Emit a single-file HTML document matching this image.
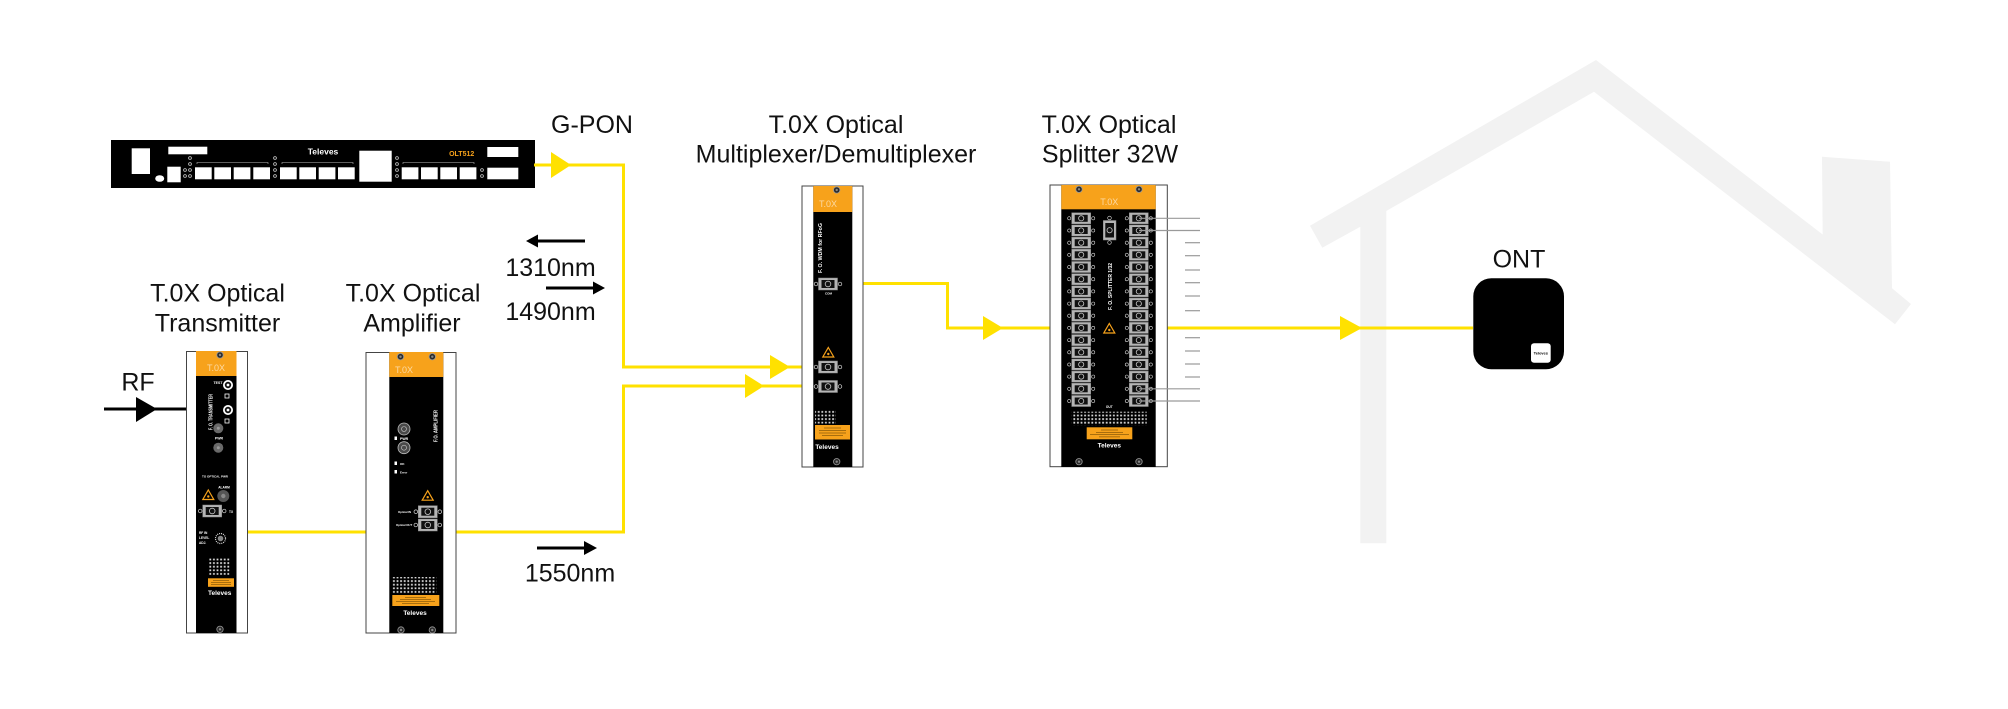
<!DOCTYPE html>
<html>
<head>
<meta charset="utf-8">
<style>
  html,body{margin:0;padding:0;background:#fff;}
  svg{display:block;}
  .t{font-family:"Liberation Sans",Arial,sans-serif;font-size:25px;fill:#111;}
  .w{font-family:"Liberation Sans",Arial,sans-serif;fill:#fff;font-weight:bold;}
</style>
</head>
<body>
<svg width="2008" height="709" viewBox="0 0 2008 709" xmlns="http://www.w3.org/2000/svg">
  <defs>
    <pattern id="dots" x="0" y="0" width="3.6" height="3.6" patternUnits="userSpaceOnUse">
      <rect x="0.6" y="0.6" width="1.8" height="1.8" fill="#d8d8d8"/>
    </pattern>
    <g id="conn">
      <rect x="0" y="0" width="19" height="11" fill="#b5b5b5" stroke="#8a8a8a" stroke-width="0.5"/>
      <rect x="3" y="2" width="13" height="7" fill="#111"/>
      <circle cx="9.5" cy="5.5" r="2.6" fill="none" stroke="#c8c8c8" stroke-width="0.8"/>
      <circle cx="-2.5" cy="5.5" r="1.6" fill="none" stroke="#ddd" stroke-width="0.6"/>
      <circle cx="21.5" cy="5.5" r="1.6" fill="none" stroke="#ddd" stroke-width="0.6"/>
    </g>
    <g id="conn2">
      <rect x="0" y="0" width="19" height="12" fill="#b5b5b5" stroke="#8a8a8a" stroke-width="0.5"/>
      <rect x="3" y="2" width="13" height="8" fill="#111"/>
      <circle cx="9.5" cy="6" r="2.8" fill="none" stroke="#c8c8c8" stroke-width="0.8"/>
      <circle cx="-2.5" cy="6" r="1.8" fill="none" stroke="#ddd" stroke-width="0.7"/>
      <circle cx="21.5" cy="6" r="1.8" fill="none" stroke="#ddd" stroke-width="0.7"/>
    </g>
    <g id="screw">
      <circle cx="0" cy="0" r="3.2" fill="#2a2a2a" stroke="#9a9a9a" stroke-width="0.8"/>
      <circle cx="0" cy="0" r="1.2" fill="#888"/>
    </g>
    <g id="warn">
      <polygon points="0,-5 5.5,4.5 -5.5,4.5" fill="none" stroke="#f7a21b" stroke-width="1.2"/>
      <circle cx="0" cy="1.5" r="1.2" fill="#f7a21b"/>
    </g>
  </defs>

  <!-- House -->
  <polygon fill="#f2f2f2" points="1310,225.7 1596,60 1822.7,234.5 1822,156.7 1890,161.7 1892,288.3 1911,304 1895,324.3 1594,91.7 1386.3,211 1386.3,543.3 1360.3,543.3 1360.3,226.7 1322.3,247.7"/>

  <!-- Titles -->
  <text class="t" x="592" y="133" text-anchor="middle">G-PON</text>
  <text class="t" x="836" y="133" text-anchor="middle">T.0X Optical</text>
  <text class="t" x="836" y="162.5" text-anchor="middle">Multiplexer/Demultiplexer</text>
  <text class="t" x="1109" y="133" text-anchor="middle">T.0X Optical</text>
  <text class="t" x="1110" y="162.5" text-anchor="middle">Splitter 32W</text>
  <text class="t" x="217.5" y="301.7" text-anchor="middle">T.0X Optical</text>
  <text class="t" x="217.5" y="331.7" text-anchor="middle">Transmitter</text>
  <text class="t" x="413" y="301.7" text-anchor="middle">T.0X Optical</text>
  <text class="t" x="412" y="331.7" text-anchor="middle">Amplifier</text>
  <text class="t" x="550.5" y="276" text-anchor="middle">1310nm</text>
  <text class="t" x="550.5" y="320" text-anchor="middle">1490nm</text>
  <text class="t" x="570" y="581.7" text-anchor="middle">1550nm</text>
  <text class="t" x="138" y="390.5" text-anchor="middle">RF</text>
  <text class="t" x="1519" y="267.5" text-anchor="middle">ONT</text>

  <!-- Black arrows -->
  <g stroke="#000" stroke-width="3" fill="none">
    <line x1="104" y1="409" x2="197" y2="409"/>
    <line x1="535" y1="241" x2="585" y2="241"/>
    <line x1="546" y1="288" x2="596" y2="288"/>
    <line x1="537" y1="548" x2="587" y2="548"/>
  </g>
  <g fill="#000">
    <polygon points="136,397 157,409 136,422"/>
    <polygon points="526,241 538,234.5 538,247.5"/>
    <polygon points="605,288 593,281.5 593,294.5"/>
    <polygon points="597,548 584,541 584,555"/>
  </g>

  <!-- OLT -->
  <g>
    <rect x="111" y="140" width="424" height="48" fill="#000"/>
    <g fill="#fff">
      <rect x="131.7" y="148.3" width="18.3" height="25.7"/>
      <rect x="168.3" y="146.7" width="39" height="7.6"/>
      <ellipse cx="159.7" cy="178.5" rx="4.5" ry="3.3"/>
      <rect x="167.3" y="166.7" width="13.4" height="15.6"/>
      <rect x="195" y="167.3" width="16.7" height="12"/>
      <rect x="214.3" y="167.3" width="16.7" height="12"/>
      <rect x="233.7" y="167.3" width="16.7" height="12"/>
      <rect x="253.3" y="167.3" width="16.7" height="12"/>
      <rect x="280" y="167.3" width="16.7" height="12"/>
      <rect x="299.3" y="167.3" width="16.7" height="12"/>
      <rect x="318.7" y="167.3" width="16.7" height="12"/>
      <rect x="338" y="167.3" width="16.7" height="12"/>
      <rect x="359.3" y="150.7" width="32.4" height="31"/>
      <rect x="401.7" y="167.3" width="16.7" height="12"/>
      <rect x="421" y="167.3" width="16.7" height="12"/>
      <rect x="440.3" y="167.3" width="16.7" height="12"/>
      <rect x="459.7" y="167.3" width="16.7" height="12"/>
      <rect x="487.3" y="147" width="31" height="10"/>
      <rect x="487.3" y="167.7" width="31" height="11.6"/>
    </g>
    <g fill="none" stroke="#bbb" stroke-width="0.6">
      <path d="M197 164 V162.5 H268 V164"/>
      <path d="M282 164 V162.5 H353 V164"/>
      <path d="M403 164 V162.5 H474 V164"/>
    </g>
    <g fill="none" stroke="#ccc" stroke-width="0.8">
      <circle cx="190" cy="158" r="1.4"/><circle cx="190" cy="164" r="1.4"/><circle cx="190" cy="170" r="1.4"/><circle cx="190" cy="176" r="1.4"/>
      <circle cx="185" cy="170" r="1.4"/><circle cx="185" cy="176" r="1.4"/>
      <circle cx="275" cy="158" r="1.4"/><circle cx="275" cy="164" r="1.4"/><circle cx="275" cy="170" r="1.4"/><circle cx="275" cy="176" r="1.4"/>
      <circle cx="397" cy="158" r="1.4"/><circle cx="397" cy="164" r="1.4"/><circle cx="397" cy="170" r="1.4"/><circle cx="397" cy="176" r="1.4"/>
      <circle cx="482" cy="170" r="1.4"/><circle cx="482" cy="176" r="1.4"/>
    </g>
    <text class="w" x="323" y="154.5" font-size="8.5" text-anchor="middle">Televes</text>
    <text x="461.7" y="156" font-family="Liberation Sans, sans-serif" font-weight="bold" font-size="7" fill="#f7a21b" text-anchor="middle">OLT512</text>
  </g>

  <!-- Yellow connectors -->
  <g stroke="#ffe100" stroke-width="3" fill="none">
    <path d="M534 165 H623.5 V367 H830"/>
    <path d="M456 532 H623.5 V386 H830"/>
    <path d="M247 532 H366"/>
    <path d="M828 283.5 H947.5 V328 H1082"/>
    <path d="M1138 328 H1473"/>
  </g>
  <g fill="#ffe100">
    <polygon points="551,152 571,165 551,178"/>
    <polygon points="770,355 790,367 770,379"/>
    <polygon points="745,374 764,386 745,398"/>
    <polygon points="983,316 1003,328 983,340"/>
    <polygon points="1340,316 1362,328 1340,340"/>
  </g>

  <!-- Transmitter -->
  <g>
    <rect x="186.5" y="351.5" width="61" height="281.5" fill="#fff" stroke="#444" stroke-width="1"/>
    <rect x="196" y="351" width="40.5" height="282" fill="#000"/>
    <rect x="196" y="351" width="40.5" height="25" fill="#f7a21b"/>
    <use href="#screw" x="220" y="355"/>
    <text x="216" y="371" font-family="Liberation Sans, sans-serif" font-size="9" fill="#fcd9a3" text-anchor="middle">T.0X</text>
    <circle cx="228" cy="385" r="5" fill="#fff"/><circle cx="228" cy="385" r="3.2" fill="#111"/><circle cx="228" cy="385" r="1.4" fill="#fff"/>
    <circle cx="228" cy="410" r="5" fill="#fff"/><circle cx="228" cy="410" r="3.2" fill="#111"/><circle cx="228" cy="410" r="1.4" fill="#fff"/>
    <rect x="225" y="394" width="4" height="4" fill="none" stroke="#fff" stroke-width="0.8"/>
    <rect x="225" y="419" width="4" height="4" fill="none" stroke="#fff" stroke-width="0.8"/>
    <text class="w" x="218" y="384" font-size="3.5" text-anchor="middle">TEST</text>
    <circle cx="218.3" cy="428.3" r="5" fill="#6a6a6a"/><circle cx="218.3" cy="428.3" r="1.5" fill="#999"/>
    <circle cx="218.3" cy="447.7" r="5" fill="#6a6a6a"/><circle cx="218.3" cy="447.7" r="1.5" fill="#999"/>
    <text class="w" x="219" y="439.5" font-size="3.5" text-anchor="middle">PWR</text>
    <text class="w" transform="translate(212.5,430) rotate(-90)" font-size="5.5" textLength="36" lengthAdjust="spacingAndGlyphs">F. O. TRANSMITTER</text>
    <text class="w" x="215" y="477.5" font-size="3" text-anchor="middle">TO OPTICAL PWR</text>
    <use href="#warn" x="208.3" y="495"/>
    <circle cx="223.3" cy="496" r="6" fill="#555"/><circle cx="223.3" cy="496" r="2.2" fill="#888"/>
    <text class="w" x="224" y="488.5" font-size="3.2" text-anchor="middle">ALARM</text>
    <use href="#conn2" x="202.7" y="505"/>
    <text class="w" x="229" y="513" font-size="3.2">TX</text>
    <text class="w" x="199" y="534" font-size="3.2">RF IN</text>
    <text class="w" x="199" y="539" font-size="3.2">LEVEL</text>
    <text class="w" x="199" y="544" font-size="3.2">ADJ.</text>
    <circle cx="220.5" cy="538.5" r="5" fill="none" stroke="#ddd" stroke-width="1.2" stroke-dasharray="1 1"/>
    <circle cx="220.5" cy="538.5" r="2.8" fill="#888"/>
    <rect x="208" y="558" width="22" height="17" fill="url(#dots)"/>
    <rect x="208" y="578.3" width="26" height="8.5" fill="#f7a21b"/>
    <g stroke="#5a3a00" stroke-width="0.5"><line x1="213" y1="580.5" x2="229" y2="580.5"/><line x1="211" y1="582.5" x2="231" y2="582.5"/><line x1="211" y1="584.5" x2="231" y2="584.5"/></g>
    <text class="w" x="208" y="595" font-size="6.5">Televes</text>
    <use href="#screw" x="220" y="629.3"/>
  </g>

  <!-- Amplifier -->
  <g>
    <rect x="366" y="352.5" width="90" height="280.5" fill="#fff" stroke="#444" stroke-width="1"/>
    <rect x="389.3" y="352" width="54" height="281" fill="#000"/>
    <rect x="389.3" y="352" width="54" height="25" fill="#f7a21b"/>
    <use href="#screw" x="400.5" y="356.7"/>
    <use href="#screw" x="432.3" y="356.7"/>
    <text x="404" y="373" font-family="Liberation Sans, sans-serif" font-size="9" fill="#fcd9a3" text-anchor="middle">T.0X</text>
    <circle cx="404" cy="429" r="6" fill="#4a4a4a" stroke="#bbb" stroke-width="0.8"/><circle cx="404" cy="429" r="2.5" fill="none" stroke="#ccc" stroke-width="0.6"/>
    <circle cx="404" cy="447.7" r="6" fill="#4a4a4a" stroke="#bbb" stroke-width="0.8"/><circle cx="404" cy="447.7" r="2.5" fill="none" stroke="#ccc" stroke-width="0.6"/>
    <rect x="394.5" y="436.5" width="2.5" height="3.5" fill="#fff"/>
    <text class="w" x="400" y="440" font-size="3.5">PWR</text>
    <rect x="394.5" y="461.5" width="2.5" height="3.5" fill="#fff"/>
    <rect x="394.5" y="470" width="2.5" height="3.5" fill="#fff"/>
    <text class="w" x="400" y="465" font-size="3">OK</text>
    <text class="w" x="400" y="473.5" font-size="3">Error</text>
    <text class="w" transform="translate(437.5,442) rotate(-90)" font-size="5.5" textLength="32" lengthAdjust="spacingAndGlyphs">F.O. AMPLIFIER</text>
    <use href="#warn" x="427.7" y="495.7"/>
    <use href="#conn2" x="418.3" y="505.7"/>
    <use href="#conn2" x="418.3" y="519"/>
    <text class="w" x="398" y="513" font-size="2.8">Optical IN</text>
    <text class="w" x="396" y="526" font-size="2.8">Optical OUT</text>
    <rect x="392.3" y="577" width="44" height="16.5" fill="url(#dots)"/>
    <rect x="392.3" y="595" width="47" height="11" fill="#f7a21b"/>
    <g stroke="#5a3a00" stroke-width="0.5"><line x1="405" y1="597.5" x2="426" y2="597.5"/><line x1="400" y1="599.5" x2="431" y2="599.5"/><line x1="396" y1="601.5" x2="435" y2="601.5"/><line x1="402" y1="603.5" x2="429" y2="603.5"/></g>
    <text class="w" x="415" y="615" font-size="6.5" text-anchor="middle">Televes</text>
    <use href="#screw" x="401" y="630"/>
    <use href="#screw" x="432.3" y="630"/>
  </g>

  <!-- Multiplexer -->
  <g>
    <rect x="802" y="186" width="61" height="281" fill="#fff" stroke="#444" stroke-width="1"/>
    <rect x="813.3" y="186" width="39" height="281" fill="#000"/>
    <rect x="813.3" y="186" width="39" height="26" fill="#f7a21b"/>
    <use href="#screw" x="836.7" y="190"/>
    <text x="828" y="207" font-family="Liberation Sans, sans-serif" font-size="9" fill="#fcd9a3" text-anchor="middle">T.0X</text>
    <text class="w" transform="translate(822,273) rotate(-90)" font-size="5.5" textLength="50" lengthAdjust="spacingAndGlyphs">F. O. WDM for RFoG</text>
    <use href="#conn2" x="818.5" y="278"/>
    <text class="w" x="828.5" y="294.5" font-size="3" text-anchor="middle">COM</text>
    <use href="#warn" x="828.3" y="352.5"/>
    <use href="#conn2" x="818.5" y="361"/>
    <use href="#conn2" x="818.5" y="380.5"/>
    <rect x="815" y="410" width="21" height="13.5" fill="url(#dots)"/>
    <rect x="815" y="425" width="35" height="14.5" fill="#f7a21b"/>
    <g stroke="#5a3a00" stroke-width="0.5"><line x1="824" y1="428" x2="841" y2="428"/><line x1="819" y1="430.5" x2="846" y2="430.5"/><line x1="819" y1="433" x2="846" y2="433"/><line x1="822" y1="435.5" x2="843" y2="435.5"/></g>
    <text class="w" x="827" y="449" font-size="6.5" text-anchor="middle">Televes</text>
    <use href="#screw" x="836.7" y="461.7"/>
  </g>

  <!-- Splitter -->
  <g>
    <rect x="1050" y="185" width="117.3" height="281.7" fill="#fff" stroke="#444" stroke-width="1"/>
    <rect x="1061.3" y="185" width="94.4" height="282" fill="#000"/>
    <rect x="1061.3" y="185" width="94.4" height="24.3" fill="#f7a21b"/>
    <use href="#screw" x="1079" y="189.3"/>
    <use href="#screw" x="1139" y="189.3"/>
    <text x="1109.3" y="205" font-family="Liberation Sans, sans-serif" font-size="9" fill="#fcd9a3" text-anchor="middle">T.0X</text>
    <!-- left column -->
    <use href="#conn" x="1071.7" y="212.8"/><use href="#conn" x="1071.7" y="225"/>
    <use href="#conn" x="1071.7" y="237.2"/><use href="#conn" x="1071.7" y="249.3"/>
    <use href="#conn" x="1071.7" y="261.5"/><use href="#conn" x="1071.7" y="273.7"/>
    <use href="#conn" x="1071.7" y="285.9"/><use href="#conn" x="1071.7" y="298.1"/>
    <use href="#conn" x="1071.7" y="310.2"/><use href="#conn" x="1071.7" y="322.4"/>
    <use href="#conn" x="1071.7" y="334.6"/><use href="#conn" x="1071.7" y="346.8"/>
    <use href="#conn" x="1071.7" y="359"/><use href="#conn" x="1071.7" y="371.1"/>
    <use href="#conn" x="1071.7" y="383.3"/><use href="#conn" x="1071.7" y="395.5"/>
    <!-- right column -->
    <use href="#conn" x="1129.3" y="212.8"/><use href="#conn" x="1129.3" y="225"/>
    <use href="#conn" x="1129.3" y="237.2"/><use href="#conn" x="1129.3" y="249.3"/>
    <use href="#conn" x="1129.3" y="261.5"/><use href="#conn" x="1129.3" y="273.7"/>
    <use href="#conn" x="1129.3" y="285.9"/><use href="#conn" x="1129.3" y="298.1"/>
    <use href="#conn" x="1129.3" y="310.2"/><use href="#conn" x="1129.3" y="322.4"/>
    <use href="#conn" x="1129.3" y="334.6"/><use href="#conn" x="1129.3" y="346.8"/>
    <use href="#conn" x="1129.3" y="359"/><use href="#conn" x="1129.3" y="371.1"/>
    <use href="#conn" x="1129.3" y="383.3"/><use href="#conn" x="1129.3" y="395.5"/>
    <!-- input -->
    <circle cx="1109.5" cy="218" r="1.8" fill="none" stroke="#ddd" stroke-width="0.6"/>
    <rect x="1103.3" y="220.5" width="12.7" height="19.5" fill="#b5b5b5" stroke="#8a8a8a" stroke-width="0.5"/>
    <rect x="1105.3" y="223" width="8.7" height="14.5" fill="#111"/>
    <circle cx="1109.6" cy="230.2" r="2.6" fill="none" stroke="#c8c8c8" stroke-width="0.8"/>
    <circle cx="1109.5" cy="242.5" r="1.8" fill="none" stroke="#ddd" stroke-width="0.6"/>
    <text class="w" transform="translate(1112,310) rotate(-90)" font-size="5.5" textLength="47" lengthAdjust="spacingAndGlyphs">F. O. SPLITTER 1/32</text>
    <use href="#warn" x="1109.3" y="328.5"/>
    <text class="w" x="1109.3" y="408" font-size="3.2" text-anchor="middle">OUT</text>
    <rect x="1071.7" y="411.7" width="75" height="13.5" fill="url(#dots)"/>
    <rect x="1086.7" y="427.3" width="45.6" height="12" fill="#f7a21b"/>
    <g stroke="#5a3a00" stroke-width="0.5"><line x1="1101" y1="430" x2="1118" y2="430"/><line x1="1096" y1="432.3" x2="1123" y2="432.3"/><line x1="1090" y1="434.6" x2="1129" y2="434.6"/><line x1="1099" y1="436.9" x2="1120" y2="436.9"/></g>
    <text class="w" x="1109.3" y="447.5" font-size="6.5" text-anchor="middle">Televes</text>
    <use href="#screw" x="1079" y="461.7"/>
    <use href="#screw" x="1139" y="461.7"/>
  </g>

  <!-- Splitter gray output lines -->
  <g stroke="#9a9a9a" stroke-width="1.2">
    <line x1="1139" y1="218.3" x2="1200" y2="218.3"/>
    <line x1="1139" y1="230.5" x2="1200" y2="230.5"/>
    <line x1="1185" y1="242.7" x2="1200" y2="242.7"/>
    <line x1="1185" y1="255.7" x2="1200" y2="255.7"/>
    <line x1="1185" y1="270" x2="1200" y2="270"/>
    <line x1="1185" y1="282.7" x2="1200" y2="282.7"/>
    <line x1="1185" y1="296" x2="1200" y2="296"/>
    <line x1="1185" y1="310.7" x2="1200" y2="310.7"/>
    <line x1="1185" y1="337.7" x2="1200" y2="337.7"/>
    <line x1="1185" y1="351" x2="1200" y2="351"/>
    <line x1="1185" y1="364" x2="1200" y2="364"/>
    <line x1="1185" y1="377" x2="1200" y2="377"/>
    <line x1="1139" y1="388.8" x2="1200" y2="388.8"/>
    <line x1="1139" y1="401" x2="1200" y2="401"/>
  </g>

  <!-- ONT -->
  <rect x="1473.3" y="278.3" width="90.7" height="91" rx="18" ry="18" fill="#000"/>
  <rect x="1531" y="343.3" width="19.7" height="19.4" rx="3" ry="3" fill="#fff"/>
  <text x="1540.8" y="354.5" font-family="Liberation Sans, sans-serif" font-weight="bold" font-size="4" fill="#000" text-anchor="middle">Televes</text>
</svg>
</body>
</html>
